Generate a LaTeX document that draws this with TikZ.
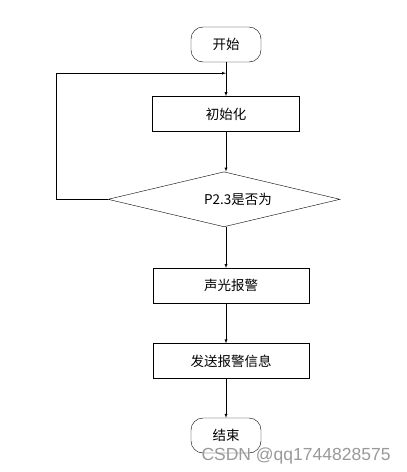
\documentclass[tikz,border=0pt]{standalone}
\usepackage{fontspec}
\setmainfont{Noto Sans CJK SC}
\newfontfamily\wmfont{Liberation Sans}
\usetikzlibrary{positioning,shapes.geometric}

\begin{document}
\begin{tikzpicture}[x=1pt,y=-1pt,
term/.style={draw,rectangle,rounded corners=12pt,minimum width=70pt,minimum height=35pt,font=\fontsize{13.5}{15}\selectfont},
proc/.style={draw,rectangle,minimum height=35pt,font=\fontsize{13.5}{15}\selectfont},
test/.style={draw,diamond,aspect=4.2,minimum width=232pt,minimum height=55pt,inner sep=0pt,font=\fontsize{13.5}{15}\selectfont},
flow/.style={draw,-latex}]
\useasboundingbox (0,0) rectangle (407,472);
\node (start) [term] at (226,44.5) {开始};
\node (init) [proc,minimum width=147pt,below=34pt of start] {初始化};
\node (check) [test,below=40pt of init,xshift=-2pt] {\hspace*{28pt}P2.3是否为};
\node (alarm) [proc,minimum width=156pt,below=41pt of check,xshift=7pt] {声光报警};
\node (send) [proc,minimum width=156pt,below=40pt of alarm] {发送报警信息};
\node (stop) [term,below=39pt of send,xshift=-5pt] {结束};
\coordinate (merge) at ([yshift=-11pt]start.south);
% main flow
\draw [flow] (start) -- (init);
\draw [flow] (init.south) -- (init.south |- check.north);
\draw [flow] (init.south |- check.south) -- (init.south |- alarm.north);
\draw [flow] (init.south |- alarm.south) -- (init.south |- send.north);
\draw [flow] (init.south |- send.south) -- (stop);
% loop back
\draw [flow] (check.west) -- ++(-52,0) |- (merge);
\node (mark) [text=black!40,font=\wmfont\fontsize{17.5}{20}\selectfont,anchor=base west] at (198,460) {CSDN @qq1744828575};
\end{tikzpicture}
\end{document}
